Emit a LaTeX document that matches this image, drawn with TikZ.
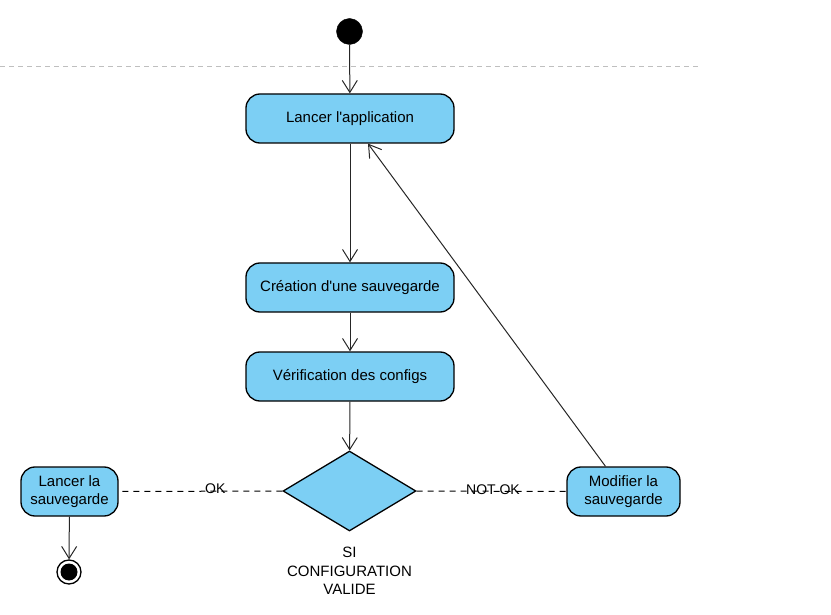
\documentclass[tikz,border=0pt]{standalone}
\usepackage{fontspec}
\setmainfont{Liberation Sans}
\usetikzlibrary{arrows.meta,shapes.geometric}

\definecolor{actblue}{HTML}{7CCFF4}
\tikzset{
  action/.style={draw=black, line width=1.3pt, fill=actblue, rounded corners=14pt,
    minimum height=49pt, inner sep=0pt, align=center, font=\fontsize{15}{18}\selectfont},
  flow/.style={draw=black!85, line width=1pt, -{Straight Barb[length=12pt,width=15pt]}},
  guard/.style={draw=black, line width=1pt, dash pattern=on 6pt off 5pt},
  guardlabel/.style={font=\fontsize{14}{16}\selectfont, inner sep=0pt, yshift=3pt},
}

\begin{document}
\begin{tikzpicture}[x=1pt, y=-1pt]
  \useasboundingbox (0,0) rectangle (831,615);

  % swimlane separator
  \draw[black!25, line width=1pt, dash pattern=on 5pt off 4pt] (0,67) -- (698,67);

  % start and end states
  \node[circle, fill=black, draw=black, minimum size=26pt, inner sep=0pt] (start) at (349.5,31.5) {};
  \node[circle, fill=white, draw=black, line width=1.3pt, minimum size=24pt, inner sep=0pt] (fin) at (69,572) {};
  \fill (fin) circle (8.5pt);

  % actions
  \node[action, minimum width=208pt] (app) at (350,118.5) {Lancer l\textquotesingle application};
  \node[action, minimum width=208pt] (save) at (350,287.5) {Création d\textquotesingle une sauvegarde};
  \node[action, minimum width=208pt] (check) at (350,376.5) {Vérification des configs};
  \node[action, minimum width=97pt] (run) at (69.5,491.5) {Lancer la\\sauvegarde};
  \node[action, minimum width=113pt] (edit) at (623.5,491.5) {Modifier la\\sauvegarde};

  % decision
  \node[diamond, draw=black, line width=1.3pt, fill=actblue, minimum width=133pt,
    minimum height=80pt, inner sep=0pt] (dec) at (349.5,491) {};
  \node[align=center, font=\fontsize{15}{18.5}\selectfont, inner sep=0pt] (cond) at (349.5,571)
    {SI\\CONFIGURATION\\VALIDE};

  % flows
  \draw[flow] (start) -- (app);
  \draw[flow] (app) -- (save);
  \draw[flow] (save) -- (check);
  \draw[flow] (check) -- (dec);
  \draw[flow] (run) -- (fin);
  \draw[flow] ([xshift=-18pt]edit.north) -- ([xshift=18pt]app.south);

  % guards
  \draw[guard] (dec.west) -- node[guardlabel, pos=0.41] {OK} (run.east);
  \draw[guard] (dec.east) -- node[guardlabel, pos=0.51, yshift=-1pt] {NOT OK} (edit.west);
\end{tikzpicture}
\end{document}
